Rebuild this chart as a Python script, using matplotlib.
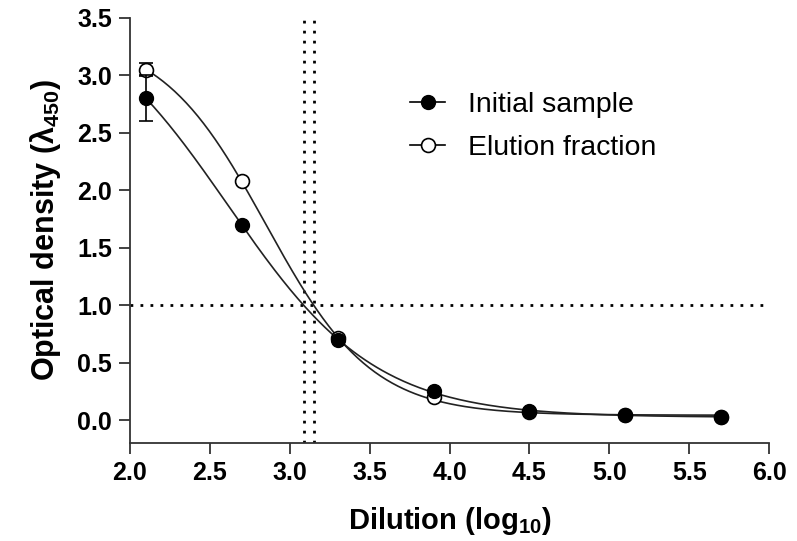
import numpy as np
import matplotlib
matplotlib.use("Agg")
import matplotlib.pyplot as plt

plt.rcParams["font.family"] = ["Liberation Sans", "DejaVu Sans"]
plt.rcParams["mathtext.fontset"] = "custom"
plt.rcParams["mathtext.rm"] = "Liberation Sans"
plt.rcParams["mathtext.bf"] = "Liberation Sans:bold"

# ---- data ----
dilution = [2.1, 2.7, 3.3, 3.9, 4.5, 5.1, 5.7]
initial_od = [2.80, 1.70, 0.70, 0.25, 0.08, 0.04, 0.03]
initial_err = [0.20, 0.0, 0.0, 0.0, 0.0, 0.0, 0.0]
elution_od = [3.05, 2.08, 0.71, 0.20, 0.07, 0.04, 0.03]
elution_err = [0.06, 0.0, 0.0, 0.0, 0.0, 0.0, 0.0]
cutoff_od = 1.0
cutoff_dilution = [3.09, 3.15]


def four_pl(x, p):
    top, bottom, logec, hill = p
    return bottom + (top - bottom) / (1.0 + 10.0 ** ((x - logec) * hill))


def fit_four_pl(x, y, p0, iters=300):
    """Small Levenberg-Marquardt fit, no scipy needed."""
    x = np.asarray(x, float); y = np.asarray(y, float)
    p = np.array(p0, float)
    lam = 1e-3
    sse = np.sum((y - four_pl(x, p)) ** 2)
    for _ in range(iters):
        r = y - four_pl(x, p)
        J = np.empty((len(x), len(p)))
        for k in range(len(p)):
            dp = np.zeros_like(p); dp[k] = 1e-6 * max(1.0, abs(p[k]))
            J[:, k] = (four_pl(x, p + dp) - four_pl(x, p - dp)) / (2 * dp[k])
        A = J.T @ J
        g = J.T @ r
        step = np.linalg.solve(A + lam * np.diag(np.diag(A)), g)
        p_new = p + step
        sse_new = np.sum((y - four_pl(x, p_new)) ** 2)
        if sse_new < sse:
            p, sse = p_new, sse_new
            lam /= 10
        else:
            lam *= 10
    return p


p_init = fit_four_pl(dilution, initial_od, [3.5, 0.03, 2.8, 1.5])
p_elut = fit_four_pl(dilution, elution_od, [3.3, 0.03, 2.9, 2.0])
xs = np.linspace(dilution[0], dilution[-1], 300)

fig = plt.figure(figsize=(7.97, 5.41), dpi=100)
ax = fig.add_axes([0.163, 0.181, 0.802, 0.786])

# reference lines
dot = (0, (1, 2.6))
ax.plot([2.0, 6.0], [cutoff_od, cutoff_od], color="black", lw=2.0, ls=dot, zorder=1)
for xc in cutoff_dilution:
    ax.plot([xc, xc], [-0.2, 3.5], color="black", lw=2.0, ls=dot, zorder=1)

# fitted curves
ax.plot(xs, four_pl(xs, p_elut), color="#222222", lw=1.2, zorder=2)
ax.plot(xs, four_pl(xs, p_init), color="#222222", lw=1.2, zorder=2)

# points
ax.errorbar(dilution, elution_od, yerr=elution_err, fmt="o", ms=10,
            mfc="white", mec="black", mew=1.2, ecolor="black", elinewidth=1.2,
            capsize=5, capthick=1.2, zorder=3)
ax.errorbar(dilution, initial_od, yerr=initial_err, fmt="o", ms=10,
            mfc="black", mec="black", ecolor="black", elinewidth=1.2,
            capsize=5, capthick=1.2, zorder=4)

# legend proxies
h1, = ax.plot([], [], "-o", color="black", lw=1.2, ms=10, mfc="black")
h2, = ax.plot([], [], "-o", color="black", lw=1.2, ms=10, mfc="white", mew=1.2)
ax.legend([h1, h2], ["Initial sample", "Elution fraction"], loc="upper left",
          bbox_to_anchor=(0.438, 0.825), frameon=False, fontsize=20.5,
          handlelength=1.25, handletextpad=0.8, labelspacing=0.6,
          borderpad=0, borderaxespad=0)

ax.set_xlim(2.0, 6.0)
ax.set_ylim(-0.2, 3.5)
ax.set_xticks(np.arange(2.0, 6.01, 0.5))
ax.set_yticks(np.arange(0.0, 3.51, 0.5))
ax.xaxis.set_major_formatter(matplotlib.ticker.FormatStrFormatter("%.1f"))
ax.yaxis.set_major_formatter(matplotlib.ticker.FormatStrFormatter("%.1f"))
for s in ("top", "right"):
    ax.spines[s].set_visible(False)
for s in ("left", "bottom"):
    ax.spines[s].set_linewidth(1.3)
    ax.spines[s].set_color("#333333")
ax.tick_params(direction="out", length=8, width=1.3, color="#333333",
               labelsize=18, pad=5)
for lbl in ax.get_xticklabels() + ax.get_yticklabels():
    lbl.set_fontweight("bold")

ax.set_xlabel(r"Dilution (log$_{\mathbf{10}}$)", fontsize=21, fontweight="bold", labelpad=14)
ax.set_ylabel(r"Optical density (λ$_{\mathbf{450}}$)", fontsize=22, fontweight="bold", labelpad=10)

fig.savefig("out.png", dpi=100)
